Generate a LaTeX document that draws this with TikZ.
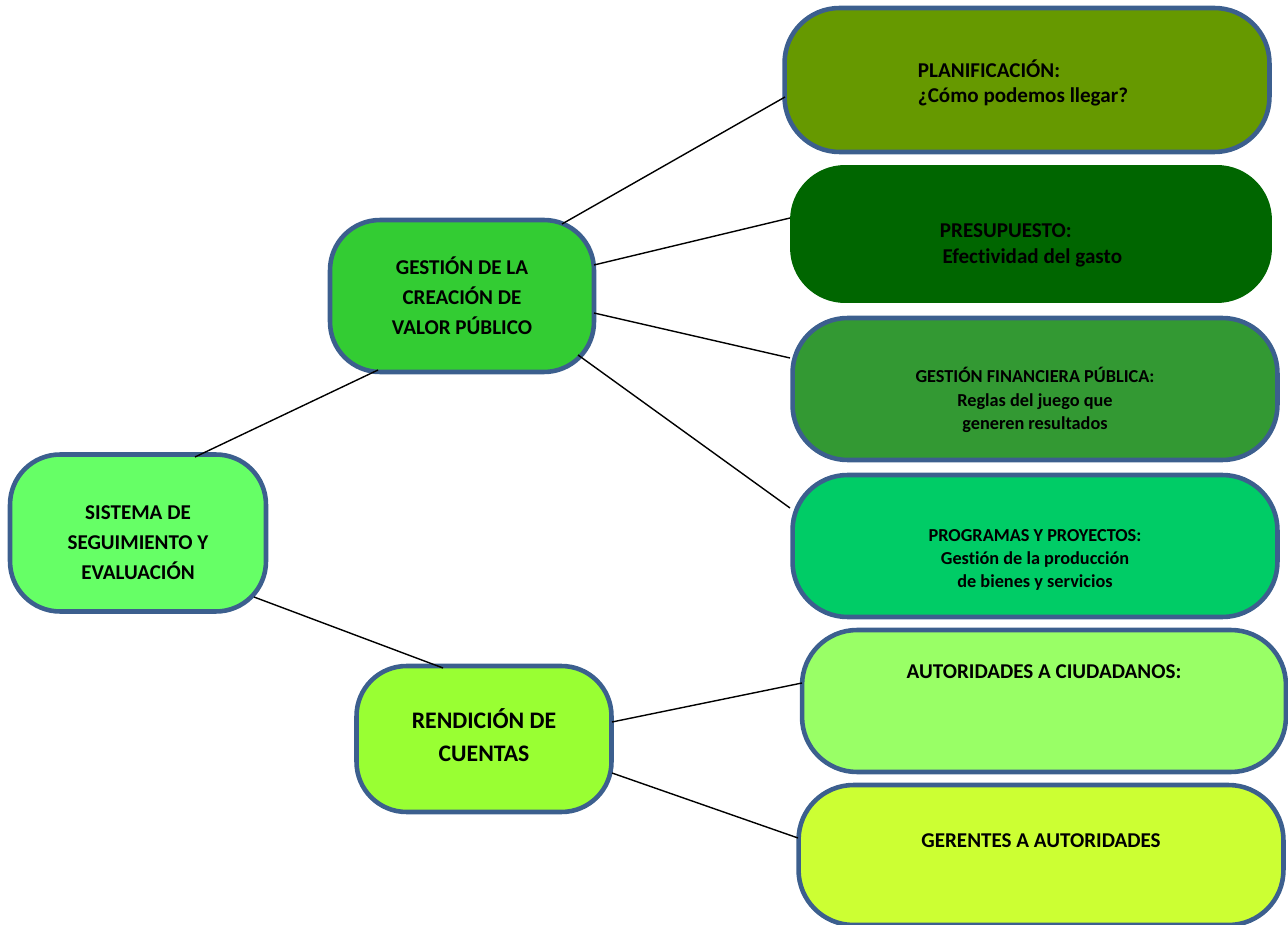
\documentclass[tikz,border=0pt]{standalone}
\usepackage{fontspec}
\setmainfont[Ligatures=NoCommon]{Carlito}
\usepackage{tikz}
\usetikzlibrary{shapes,positioning,calc}

\definecolor{boxblue}{HTML}{3C5F8E}
\definecolor{sisgreen}{HTML}{66FF66}
\definecolor{gesgreen}{HTML}{33CC33}
\definecolor{rengreen}{HTML}{99FF33}
\definecolor{plangreen}{HTML}{669900}
\definecolor{pregreen}{HTML}{006600}
\definecolor{gfpgreen}{HTML}{339933}
\definecolor{proggreen}{HTML}{00CC66}
\definecolor{autgreen}{HTML}{99FF66}
\definecolor{gergreen}{HTML}{CCFF33}

\tikzset{
  box/.style={draw=boxblue, line width=2.6pt, rounded corners=1cm, inner sep=0pt},
  bigbox/.style={box, rounded corners=1.1cm, minimum width=9.7cm, minimum height=2.84cm},
  boxtext/.style={align=center, font=\bfseries\fontsize{12}{17}\selectfont},
  smalltext/.style={align=center, font=\bfseries\fontsize{10.4}{13.2}\selectfont},
  link/.style={draw=black, line width=0.8pt}
}

\begin{document}
\begin{tikzpicture}[x=0.02cm, y=-0.02cm]
  \useasboundingbox (0,0) rectangle (1288,925);

  % left column
  \node[box, fill=sisgreen, minimum width=5.12cm, minimum height=3.14cm,
        label={[boxtext, yshift=-0.2cm]center:{SISTEMA DE\\SEGUIMIENTO Y\\EVALUACIÓN}}] (sis) at (138,533) {};

  % middle column
  \node[box, fill=gesgreen, minimum width=5.28cm, minimum height=3.04cm,
        label={[boxtext]center:{GESTIÓN DE LA\\CREACIÓN DE\\VALOR PÚBLICO}}] (ges) at (462,296) {};
  \node[box, fill=rengreen, minimum width=5.1cm, minimum height=2.92cm,
        label={[boxtext, font=\bfseries\fontsize{13.5}{19}\selectfont, yshift=0.08cm]center:{RENDICIÓN DE\\CUENTAS}}] (ren) at (484,739) {};

  % right column
  \node[bigbox, fill=plangreen, minimum width=9.7cm, minimum height=2.88cm,
        label={[boxtext, align=left, font=\bfseries\fontsize{12}{14.7}\selectfont, xshift=-0.08cm, yshift=-0.06cm]center:{PLANIFICACIÓN:\\¿Cómo podemos llegar?}}] (plan) at (1027,80) {};
  \node[bigbox, draw=none, fill=pregreen, minimum width=9.64cm, minimum height=2.76cm,
        label={[boxtext, align=left, font=\bfseries\fontsize{12}{14.7}\selectfont, yshift=-0.22cm]center:{PRESUPUESTO:\\\hspace{1.5pt}Efectividad del gasto}}] (pre) at (1031,234) {};
  \node[bigbox, fill=gfpgreen,
        label={[smalltext, yshift=-0.22cm]center:{GESTIÓN FINANCIERA PÚBLICA:\\Reglas del juego que\\generen resultados}}] (gfp) at (1035,389) {};
  \node[bigbox, fill=proggreen,
        label={[smalltext, yshift=-0.28cm]center:{PROGRAMAS Y PROYECTOS:\\Gestión de la producción\\de bienes y servicios}}] (prog) at (1035,546) {};
  \node[bigbox, fill=autgreen, minimum width=9.68cm,
        label={[boxtext, yshift=0.58cm]center:{AUTORIDADES A CIUDADANOS:}}] (aut) at (1044,701) {};
  \node[bigbox, fill=gergreen, minimum height=2.8cm,
        label={[boxtext, yshift=0.28cm]center:{GERENTES A AUTORIDADES}}] (ger) at (1041,855) {};

  % connectors
  \draw[link] ([shift={(57,-76)}]sis.center) -- ([shift={(-84,74)}]ges.center);
  \draw[link] ([shift={(116,64)}]sis.center) -- ([shift={(-41,-71)}]ren.center);
  \draw[link] ([shift={(100,-72)}]ges.center) -- ([shift={(-242,17)}]plan.center);
  \draw[link] ([shift={(132,-31)}]ges.center) -- ([shift={(-241,-16)}]pre.center);
  \draw[link] ([shift={(132,17)}]ges.center) -- ([shift={(-245,-31)}]gfp.center);
  \draw[link] ([shift={(116,59)}]ges.center) -- ([shift={(-245,-38)}]prog.center);
  \draw[link] ([shift={(128,-17)}]ren.center) -- ([shift={(-242,-18)}]aut.center);
  \draw[link] ([shift={(128,34)}]ren.center) -- ([shift={(-243,-17)}]ger.center);
\end{tikzpicture}
\end{document}
